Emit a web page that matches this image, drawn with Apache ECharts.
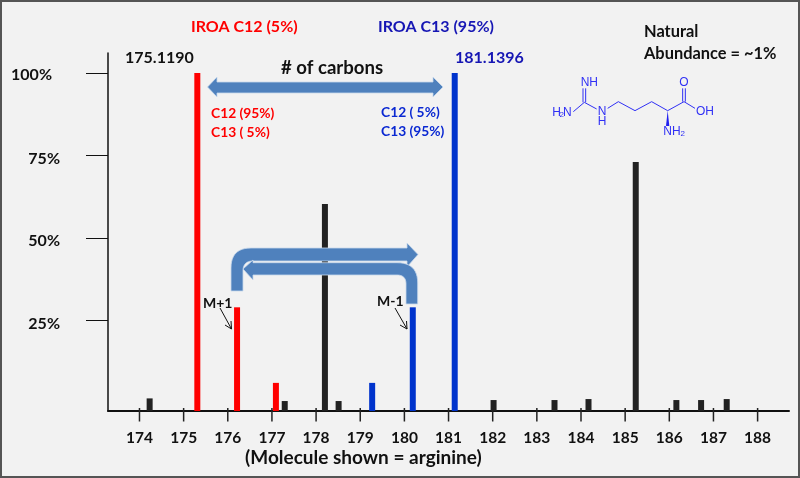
<!DOCTYPE html>
<html><head><meta charset="utf-8">
<style>html,body{margin:0;padding:0;background:#f2f2f2}#c{width:800px;height:478px}</style>
<script src="https://cdn.jsdelivr.net/npm/echarts@6/dist/echarts.min.js"></script>
</head><body><div id="c"></div>
<script>
const massTicks = [174,175,176,177,178,179,180,181,182,183,184,185,186,187,188];
const percentTicks = [25,50,75,100];
const redPeaks = [[175.31,100],[176.21,29],[177.09,6.1]];
const bluePeaks = [[179.27,6.1],[180.19,29],[181.14,100]];
const blackPeaks = [[174.23,1.4],[177.29,0.6],[178.2,60.3],[178.51,0.6],[182.02,0.9],[183.4,0.9],[184.17,1.2],[185.24,73],[186.16,0.9],[186.72,0.9],[187.3,1.2]];
const AXIS_MIN = -2.42;

const FONT = 'Lato';
const chart = echarts.init(document.getElementById('c'), null, {renderer:'canvas'});
function barSeries(data,color){
  return {type:'custom',data:data,silent:true,clip:false,encode:{x:0,y:1},
    renderItem:function(params,api){
      const top=api.coord([api.value(0),api.value(1)]);
      const base=api.coord([api.value(0),AXIS_MIN]);
      return {type:'rect',shape:{x:top[0]-3,y:top[1],width:6,height:base[1]-top[1]},style:{fill:color}};
    }};
}
function txt(x,y,s,fill,size){
  return {type:'text',x:x,y:y,z:20,silent:true,style:{text:s,fill:fill,font:'bold '+size+'px '+FONT,align:'left',verticalAlign:'middle'}};
}
function curve(list){ // [x,y] point or [x0,y0,cx,cy,x1,y1] quadratic corner
  const out=[];
  list.forEach(p=>{
    if(p.length===2){out.push(p);return;}
    for(let i=0;i<=12;i++){const t=i/12,u=1-t;
      out.push([u*u*p[0]+2*u*t*p[2]+t*t*p[4],u*u*p[1]+2*u*t*p[3]+t*t*p[5]]);}
  });
  return out;
}
function arrowShape(list,z){
  return {type:'polygon',z:z,silent:true,shape:{points:curve(list)},style:{fill:'#4f81bd',stroke:'#c9d9ec',lineWidth:0.8}};
}
function seg(x1,y1,x2,y2,color,w){
  return {type:'line',z:20,silent:true,shape:{x1,y1,x2,y2},style:{stroke:color,lineWidth:w||1}};
}
const BL='#3030f5';
function m(x,y){return [540+x/3,60+y/3];}
function bond(a,b,c,d){const p=m(a,b),q=m(c,d);return seg(p[0],p[1],q[0],q[1],BL,1);}
function mt(x,y,s,size){const p=m(x,y);return {type:'text',x:p[0],y:p[1],z:20,silent:true,style:{text:s,fill:BL,font:(size||12)+'px "Liberation Sans"',align:'center',verticalAlign:'middle'}};}

const graphics = [
  {type:'rect',z:30,silent:true,shape:{x:1,y:1,width:798,height:476},style:{fill:'none',stroke:'#555',lineWidth:2}},
  txt(191,27,'IROA C12 (5%)','#ff0000',16),
  txt(378,27,'IROA C13 (95%)','#1616b4',16),
  txt(125,58,'175.1190','#111',16),
  txt(455,58,'181.1396','#1616b4',16),
  txt(281,68,'# of carbons','#111',18.6),
  txt(211,114,'C12 (95%)','#ff0000',13.8),
  txt(211,133,'C13 ( 5%)','#ff0000',13.8),
  txt(381,113,'C12 ( 5%)','#0a28d2',13.8),
  txt(381,132,'C13 (95%)','#0a28d2',13.8),
  txt(644,32,'Natural','#111',16.4),
  txt(644,54,'Abundance = ~1%','#111',16.4),
  txt(245,458,'(Molecule shown = arginine)','#111',19),
  txt(203,303,'M+1','#111',14),
  txt(377,301,'M-1','#111',14),
  arrowShape([[207.5,87],[217,77],[217,82],[433,82],[433,77],[443,87],[433,97],[433,93],[217,93],[217,97]],15),
  arrowShape([[231,291],[231,268,231,248,251,248],[407,248],[407,243],[418,254.5],[407,267],[407,261],[253,261],[253,261,243,261,243,271],[243,291]],15),
  arrowShape([[417.7,304],[417.7,283,417.7,262.7,397,262.7],[253,262.7],[253,260],[243,269],[253,280],[253,275],[397,275],[397,275,406,275,406,284],[406,304]],16),
  seg(220,308,231.5,329,'#111'),seg(231.5,329,225,325,'#111'),seg(231.5,329,231,321,'#111'),
  seg(395,308,407,329,'#111'),seg(407,329,400,325,'#111'),seg(407,329,406.5,321,'#111'),
  bond(100,155,133,127),bond(129,127,129,85),bond(137,127,137,85),bond(133,127,170,147),
  bond(203,145,235,125),bond(235,125,285,152),bond(285,152,335,125),bond(335,125,383,152),bond(383,152,432,125),
  bond(428,125,428,85),bond(436,125,436,85),bond(432,125,465,145),
  {type:'polygon',z:20,silent:true,shape:{points:[m(383,152),m(378,198),m(388,198)]},style:{fill:'#2020f0'}},
  mt(50,157,'H'),mt(65,163,'2',8),mt(82,157,'N'),
  mt(148,68,'NH'),mt(186,155,'N'),mt(186,185,'H'),
  mt(432,68,'O'),mt(495,155,'OH'),mt(396,215,'NH'),mt(428,222,'2',8)
];

const axisOption = {
  animation:false,
  backgroundColor:'#f2f2f2',
  grid:{left:108,right:11,top:53,bottom:67},
  xAxis:{type:'value',min:173.287,max:188.711,splitLine:{show:false},
    axisLine:{onZero:false,lineStyle:{color:'#111',width:2}},
    axisTick:{show:false},
    axisLabel:{customValues:massTicks,margin:19,color:'#111',fontFamily:FONT,fontWeight:'bold',fontSize:15.5,formatter:v=>String(v),hideOverlap:false}},
  yAxis:{type:'value',min:AXIS_MIN,max:106.06,splitLine:{show:false},
    axisLine:{show:true,onZero:false,lineStyle:{color:'#111',width:1.5}},
    axisTick:{show:true,customValues:percentTicks,length:22,lineStyle:{color:'#111',width:1}},
    axisLabel:{customValues:percentTicks,margin:48,align:'right',color:'#111',fontFamily:FONT,fontWeight:'bold',fontSize:16,
      formatter:v=>v===100?'{h|'+v+'%}':'{n|'+v+'%}',
      rich:{h:{padding:[4,8,0,0],fontFamily:FONT,fontWeight:'bold',fontSize:16,color:'#111'},
            n:{padding:[6,0,0,0],fontFamily:FONT,fontWeight:'bold',fontSize:16,color:'#111'}}}},
  series:[barSeries(blackPeaks,'#222222'),barSeries(redPeaks,'#ff0000'),barSeries(bluePeaks,'#0033cc')],
  graphic:{elements:graphics}
};
chart.setOption(axisOption);
const tickLines = massTicks.map(v=>{
  const p=chart.convertToPixel({xAxisIndex:0,yAxisIndex:0},[v,AXIS_MIN]);
  return seg(p[0],p[1]-3,p[0],p[1]+10.5,'#222',1.5);
});
chart.setOption({graphic:{elements:graphics.concat(tickLines)}});
</script></body></html>
